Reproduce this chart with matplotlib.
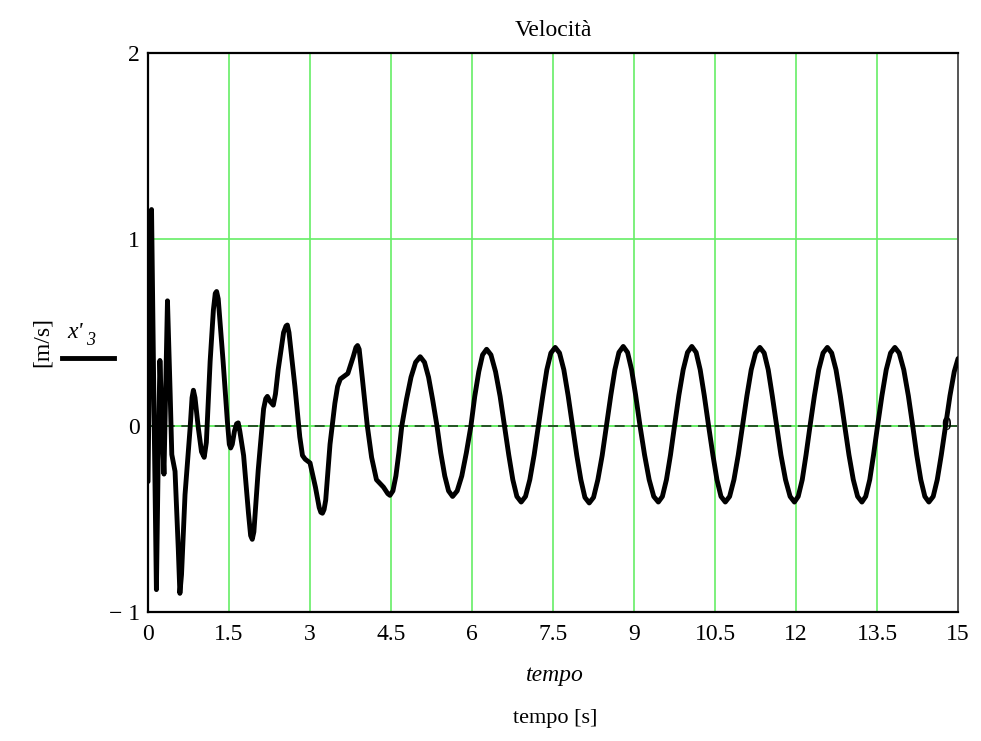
import matplotlib
matplotlib.use('Agg')
import matplotlib.pyplot as plt

# Velocita x'3 [m/s], time in s
tempo = [0.00, 0.03, 0.065, 0.11, 0.155, 0.19, 0.22, 0.26, 0.295, 0.33, 0.36,
         0.41, 0.44, 0.50, 0.56, 0.59, 0.62, 0.685, 0.78, 0.815, 0.84, 0.87,
         0.93, 0.99, 1.04, 1.08, 1.15, 1.21, 1.245, 1.27, 1.30, 1.39, 1.47,
         1.505, 1.53, 1.56, 1.60, 1.64, 1.67, 1.70, 1.77, 1.86, 1.90, 1.93,
         1.96, 2.04, 2.14, 2.18, 2.21, 2.26, 2.32, 2.36, 2.41, 2.51, 2.555,
         2.58, 2.61, 2.72, 2.81, 2.86, 2.91, 3.00, 3.10, 3.17, 3.20, 3.23,
         3.26, 3.29, 3.37, 3.46, 3.51, 3.56, 3.70, 3.80, 3.85, 3.88, 3.91,
         3.97, 4.06, 4.14, 4.23, 4.36, 4.44, 4.48,
         4.535, 4.59, 4.645, 4.70, 4.785, 4.87, 4.955, 5.04, 5.12, 5.195, 5.27, 5.35,
         5.42, 5.495, 5.565, 5.64, 5.725, 5.81, 5.895, 5.98, 6.05, 6.125, 6.195, 6.27,
         6.35, 6.435, 6.52, 6.60, 6.68, 6.755, 6.83, 6.91, 6.99, 7.07, 7.15, 7.23,
         7.31, 7.385, 7.46, 7.54, 7.62, 7.70, 7.78, 7.86, 7.94, 8.015, 8.09, 8.17,
         8.25, 8.33, 8.41, 8.49, 8.57, 8.645, 8.72, 8.80, 8.88, 8.955, 9.03, 9.11,
         9.195, 9.28, 9.365, 9.45, 9.525, 9.60, 9.675, 9.75, 9.83, 9.91, 9.99, 10.07,
         10.15, 10.225, 10.30, 10.38, 10.46, 10.535, 10.61, 10.69, 10.77, 10.85, 10.93, 11.01,
         11.09, 11.17, 11.25, 11.33, 11.41, 11.485, 11.56, 11.64, 11.72, 11.805, 11.89, 11.97,
         12.04, 12.115, 12.185, 12.26, 12.34, 12.42, 12.50, 12.58, 12.66, 12.74, 12.82, 12.90,
         12.98, 13.06, 13.14, 13.22, 13.29, 13.365, 13.435, 13.51, 13.59, 13.67, 13.75, 13.83,
         13.91, 13.995, 14.08, 14.16, 14.235, 14.31, 14.385, 14.46, 14.54, 14.615, 14.69, 14.77,
         14.85, 14.93, 15.00]
vel = [-0.30, 0.45, 1.16, 0.10, -0.88, -0.15, 0.35, 0.00, -0.26, 0.25, 0.67,
       0.17, -0.155, -0.245, -0.66, -0.90, -0.80, -0.37, -0.01, 0.15, 0.19, 0.15,
       -0.01, -0.14, -0.17, -0.09, 0.345, 0.62, 0.71, 0.72, 0.68, 0.345, 0.02,
       -0.10, -0.12, -0.10, -0.03, 0.01, 0.015, -0.03, -0.16, -0.47, -0.59, -0.61,
       -0.57, -0.24, 0.09, 0.145, 0.157, 0.13, 0.11, 0.17, 0.30, 0.50, 0.535,
       0.54, 0.50, 0.21, -0.06, -0.16, -0.18, -0.20, -0.33, -0.44, -0.465, -0.47,
       -0.45, -0.40, -0.10, 0.12, 0.21, 0.25, 0.28, 0.37, 0.42, 0.43, 0.41,
       0.25, 0.00, -0.17, -0.29, -0.33, -0.365, -0.374,
       -0.35, -0.27, -0.145, 0.00, 0.14, 0.26, 0.34, 0.37, 0.34, 0.26, 0.14, 0.00,
       -0.145, -0.27, -0.35, -0.38, -0.35, -0.27, -0.145, 0.00, 0.157, 0.29, 0.38, 0.41,
       0.38, 0.29, 0.157, 0.00, -0.157, -0.29, -0.38, -0.41, -0.38, -0.29, -0.157, 0.00,
       0.16, 0.30, 0.39, 0.42, 0.39, 0.30, 0.16, 0.00, -0.16, -0.29, -0.385, -0.415,
       -0.385, -0.29, -0.16, 0.00, 0.163, 0.30, 0.393, 0.425, 0.393, 0.30, 0.163, 0.00,
       -0.157, -0.29, -0.38, -0.41, -0.38, -0.29, -0.157, 0.00, 0.163, 0.30, 0.393, 0.425,
       0.393, 0.30, 0.163, 0.00, -0.157, -0.29, -0.38, -0.41, -0.38, -0.29, -0.157, 0.00,
       0.16, 0.30, 0.39, 0.42, 0.39, 0.30, 0.16, 0.00, -0.157, -0.29, -0.38, -0.41,
       -0.38, -0.29, -0.157, 0.00, 0.16, 0.30, 0.39, 0.42, 0.39, 0.30, 0.16, 0.00,
       -0.157, -0.29, -0.38, -0.41, -0.38, -0.29, -0.157, 0.00, 0.16, 0.30, 0.39, 0.42,
       0.39, 0.30, 0.16, 0.00, -0.157, -0.29, -0.38, -0.41, -0.38, -0.29, -0.157, 0.00,
       0.16, 0.29, 0.36]

xticks = [0, 1.5, 3, 4.5, 6, 7.5, 9, 10.5, 12, 13.5, 15]
xlabels = ['0', '1.5', '3', '4.5', '6', '7.5', '9', '10.5', '12', '13.5', '15']
yticks = [-1, 0, 1, 2]
ylabels = ['\u2212 1', '0', '1', '2']

plt.rcParams['font.family'] = ['Liberation Serif', 'DejaVu Serif']
green = '#66ee66'

fig = plt.figure(figsize=(9.81, 7.41), dpi=100)
ax = fig.add_axes([0.1509, 0.1741, 0.8257, 0.7544])

# grid
for xv in xticks[1:-1]:
    ax.axvline(xv, color=green, lw=1.2, zorder=1)
ax.axhline(1, color=green, lw=1.2, zorder=1)
ax.axhline(0, color=green, lw=1.4, zorder=1)
ax.axhline(0, color='#1a3a1a', lw=1.2, ls=(0, (6, 4)), zorder=2)

ax.plot(tempo, vel, color='black', lw=3.5, solid_joinstyle='round',
        solid_capstyle='round', zorder=3)
ax.text(14.78, 0, '0', fontsize=14, ha='center', va='center', zorder=4)

ax.set_xlim(0, 15)
ax.set_ylim(-1, 2)
ax.set_xticks(xticks)
ax.set_xticklabels(xlabels, fontsize=17)
ax.set_yticks(yticks)
ax.set_yticklabels(ylabels, fontsize=17)
ax.tick_params(axis='both', length=0, pad=6)
ax.tick_params(axis='x', pad=9)

for s in ['left', 'bottom', 'top']:
    ax.spines[s].set_color('black')
    ax.spines[s].set_linewidth(1.6)
ax.spines['right'].set_color('#555555')
ax.spines['right'].set_linewidth(1.4)

ax.set_title('Velocit\u00e0', fontsize=17, pad=12)

fig.text(0.566, 0.088, 'tempo', fontsize=17, style='italic', ha='center', va='center')
fig.text(0.566, 0.031, 'tempo [s]', fontsize=16, ha='center', va='center')
fig.text(0.043, 0.538, '[m/s]', fontsize=17, rotation=90, ha='center', va='center')
fig.text(0.0765, 0.551, "x'", fontsize=17, style='italic', ha='center', va='center')
fig.text(0.092, 0.541, '3', fontsize=13, style='italic', ha='center', va='center')
fig.add_artist(plt.Line2D([0.063, 0.116], [0.517, 0.517], color='black', lw=3.5,
                          transform=fig.transFigure))

fig.savefig('out.png', dpi=100)
